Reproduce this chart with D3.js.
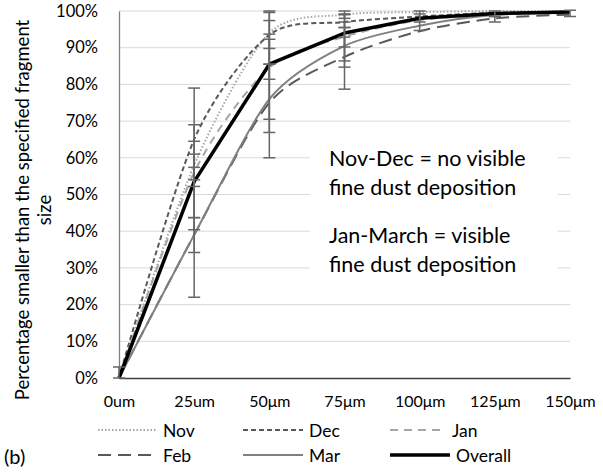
<!DOCTYPE html>
<html>
<head>
<meta charset="utf-8">
<script src="https://cdn.jsdelivr.net/npm/d3@7"></script>
<style>
  body { margin: 0; background: #fff; }
  svg { font-family: Lato, "Liberation Sans", sans-serif; }
</style>
</head>
<body>
<div id="chart"></div>
<script>
// fragment size categories
var sizes = ["0um", "25um", "50μm", "75μm", "100μm", "125μm", "150μm"];
var yTicks = [0, 10, 20, 30, 40, 50, 60, 70, 80, 90, 100];

// cumulative % smaller than size, per month
var nov = [0, 58, 94, 99, 99.7, 100, 100];
var dec = [0, 65, 93.5, 97, 98.5, 99.5, 99.8];
var jan = [0, 56, 84.5, 93, 97.5, 99, 99.5];
var feb = [0, 39, 75, 87.5, 94.5, 98, 99];
var mar = [0, 39, 76, 90.5, 96, 99, 99.5];
var overall = [0, 53.5, 85.5, 94, 98, 99.3, 99.7];

// error bars: [category index, low, high]
var errorBars = [
  [0, 0, 3],
  [1, 54, 79], [1, 43.7, 69], [1, 52.2, 61], [1, 40.4, 64.5], [1, 34.2, 43.7], [1, 22, 57.4],
  [2, 89.8, 99.6], [2, 85.5, 100], [2, 70.5, 97.4], [2, 81.4, 93.7], [2, 60, 92.3], [2, 66.9, 85.5],
  [3, 98, 100], [3, 95.5, 99.2], [3, 90.2, 97], [3, 86.4, 99], [3, 84.7, 95.5], [3, 78.7, 92.9],
  [4, 97, 99.2], [4, 94.7, 100],
  [5, 97, 98.5], [5, 98.5, 100],
  [6, 98.5, 100.2]
];

var series = [
  { name: "Nov", values: nov, color: "#a6a6a6", width: 2, dash: "1.5,2", smooth: true },
  { name: "Dec", values: dec, color: "#595959", width: 2, dash: "5,3", smooth: true },
  { name: "Jan", values: jan, color: "#a6a6a6", width: 2, dash: "8,6", smooth: true },
  { name: "Feb", values: feb, color: "#595959", width: 2, dash: "13,7", smooth: true },
  { name: "Mar", values: mar, color: "#808080", width: 2, dash: null, smooth: true },
  { name: "Overall", values: overall, color: "#000", width: 3.5, dash: null, smooth: false }
];

var width = 603, height = 476;
var plotLeft = 119, plotRight = 570, plotTop = 11, plotBottom = 378;

var svg = d3.select("#chart").append("svg")
  .attr("width", width)
  .attr("height", height);

var x = d3.scalePoint().domain(sizes).range([plotLeft, plotRight]);
var y = d3.scaleLinear().domain([0, 100]).range([plotBottom, plotTop]);

// gridlines
svg.append("g")
  .selectAll("line")
  .data(yTicks.slice(1))
  .enter().append("line")
  .attr("x1", plotLeft).attr("x2", plotRight)
  .attr("y1", function (d) { return y(d); })
  .attr("y2", function (d) { return y(d); })
  .style("stroke", "#d9d9d9")
  .style("stroke-width", 1);

// white text box sits over the grid
svg.append("rect")
  .attr("x", 310).attr("y", 143)
  .attr("width", 248).attr("height", 138)
  .style("fill", "#fff");

// y axis
var yAxis = svg.append("g")
  .attr("transform", "translate(" + plotLeft + ",0)")
  .call(d3.axisLeft(y).tickValues(yTicks).tickSize(0).tickPadding(21)
    .tickFormat(function (d) { return d + "%"; }));
yAxis.select(".domain").style("stroke", "#808080").style("stroke-width", 1.3);
yAxis.selectAll("text")
  .style("font-family", "Lato, sans-serif")
  .style("font-size", "16.5px")
  .style("fill", "#000");

// x axis
var xAxis = svg.append("g")
  .attr("transform", "translate(0," + plotBottom + ")")
  .call(d3.axisBottom(x).tickSize(0).tickPadding(18));
xAxis.select(".domain").style("stroke", "#404040").style("stroke-width", 1.5);
xAxis.selectAll("text")
  .style("font-family", "Lato, sans-serif")
  .style("font-size", "16px")
  .style("fill", "#000");

// lines
var lineSmooth = d3.line()
  .x(function (d, i) { return x(sizes[i]); })
  .y(function (d) { return y(d); })
  .curve(d3.curveCardinal.tension(0.2));
var lineStraight = d3.line()
  .x(function (d, i) { return x(sizes[i]); })
  .y(function (d) { return y(d); });

svg.append("g")
  .selectAll("path")
  .data(series)
  .enter().append("path")
  .attr("d", function (s) { return (s.smooth ? lineSmooth : lineStraight)(s.values); })
  .style("fill", "none")
  .style("stroke", function (s) { return s.color; })
  .style("stroke-width", function (s) { return s.width; })
  .style("stroke-dasharray", function (s) { return s.dash; })
  .style("stroke-linejoin", "round");

// error bars
var eb = svg.append("g")
  .selectAll("g")
  .data(errorBars)
  .enter().append("g")
  .style("stroke", "#666")
  .style("stroke-width", 1.5);
eb.append("line")
  .attr("x1", function (d) { return x(sizes[d[0]]); })
  .attr("x2", function (d) { return x(sizes[d[0]]); })
  .attr("y1", function (d) { return y(d[1]); })
  .attr("y2", function (d) { return y(d[2]); });
[1, 2].forEach(function (k) {
  eb.append("line")
    .attr("x1", function (d) { return x(sizes[d[0]]) - 6; })
    .attr("x2", function (d) { return x(sizes[d[0]]) + 6; })
    .attr("y1", function (d) { return y(d[k]); })
    .attr("y2", function (d) { return y(d[k]); });
});

// annotation
var notes = [
  ["Nov-Dec = no visible", 166],
  ["fine dust deposition", 195],
  ["Jan-March = visible", 243],
  ["fine dust deposition", 272]
];
svg.append("g")
  .selectAll("text")
  .data(notes)
  .enter().append("text")
  .attr("x", 329)
  .attr("y", function (d) { return d[1]; })
  .style("font-size", "21.5px")
  .style("fill", "#000")
  .text(function (d) { return d[0]; });

// y axis title
var title = svg.append("text")
  .attr("transform", "translate(0,210) rotate(-90)")
  .style("text-anchor", "middle")
  .style("font-size", "18.5px")
  .style("fill", "#000");
title.append("tspan").attr("x", 0).attr("y", 29).text("Percentage smaller than the specified fragment");
title.append("tspan").attr("x", 0).attr("y", 51).text("size");

// legend
var legendPos = [
  [98, 157, 430], [243, 303, 430], [390, 446, 430],
  [98, 157, 455], [243, 303, 455], [390, 450, 455]
];
var lg = svg.append("g")
  .selectAll("g")
  .data(series)
  .enter().append("g");
lg.append("line")
  .attr("x1", function (s, i) { return legendPos[i][0]; })
  .attr("x2", function (s, i) { return legendPos[i][1]; })
  .attr("y1", function (s, i) { return legendPos[i][2]; })
  .attr("y2", function (s, i) { return legendPos[i][2]; })
  .style("stroke", function (s) { return s.color; })
  .style("stroke-width", function (s) { return s.width; })
  .style("stroke-dasharray", function (s) { return s.dash; });
lg.append("text")
  .attr("x", function (s, i) { return legendPos[i][1] + 6; })
  .attr("y", function (s, i) { return legendPos[i][2]; })
  .attr("dominant-baseline", "central")
  .style("font-size", "17.5px")
  .style("fill", "#000")
  .text(function (s) { return s.name; });

svg.append("text")
  .attr("x", 4)
  .attr("y", 464)
  .style("font-size", "20px")
  .style("fill", "#000")
  .text("(b)");
</script>
</body>
</html>
